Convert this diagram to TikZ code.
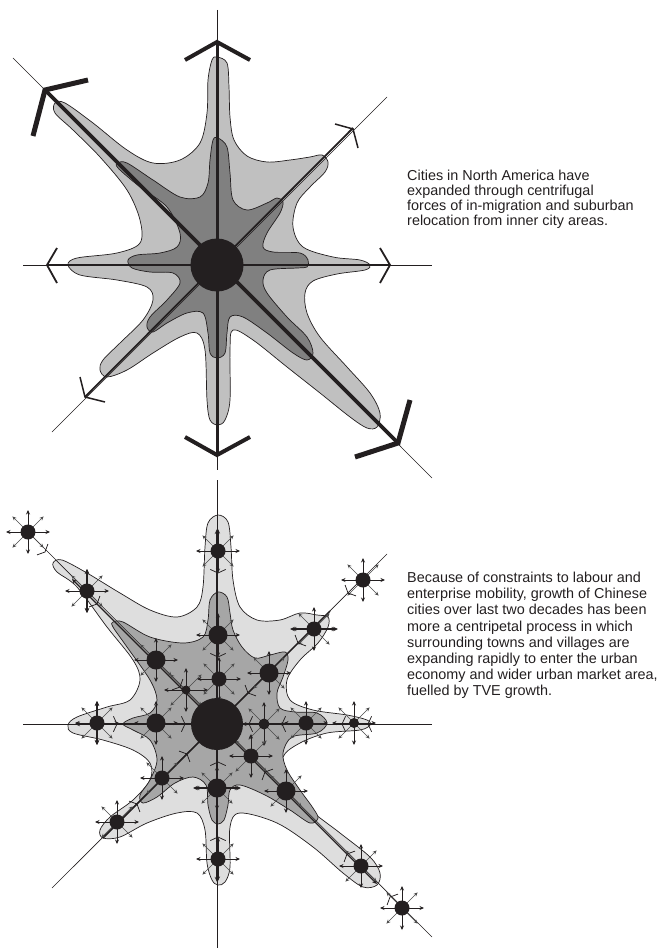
\documentclass[tikz,border=0pt]{standalone}
\usepackage{fontspec}
\setmainfont{Liberation Sans}
\usetikzlibrary{arrows.meta}
\definecolor{ink}{HTML}{231F20}
\definecolor{topouter}{HTML}{C0C0C0}
\definecolor{topinner}{HTML}{808080}
\definecolor{botouter}{HTML}{DEDEDE}
\definecolor{botinner}{HTML}{A6A6A6}
\definecolor{diaggray}{HTML}{4A4A4A}
\tikzset{
  blob/.style={draw=ink, line width=0.7pt},
  axisthin/.style={draw=ink, line width=0.6pt},
  orth/.style={draw=ink, line width=0.9pt, -{Stealth[length=4.5pt,width=4pt]}},
  orththick/.style={draw=ink, line width=1.6pt, -{Stealth[length=5pt,width=4.5pt]}},
  diagarr/.style={draw=diaggray, line width=0.65pt, -{Stealth[length=4pt,width=3.6pt]}},
  inaxis/.style={draw=ink, line width=1.4pt},
  inaxisarr/.style={draw=ink, line width=1.4pt, -{Stealth[length=5pt,width=4.5pt]}},
  chev/.style={draw=ink, line width=0.75pt},
  bigchev/.style={draw=ink, line join=miter},
  caption/.style={anchor=base west, inner sep=0pt, font=\fontsize{14.4}{15}\selectfont, text=ink},
}
\newcommand{\chevron}[3]{%
  \draw[chev] ([shift={(#3+115:8.5pt)}]#1,#2) -- (#1,#2) -- ([shift={(#3-115:8.5pt)}]#1,#2);}
\begin{document}
\begin{tikzpicture}[x=1pt,y=-1pt]
\useasboundingbox (0,0) rectangle (665,952);

% ================= TOP STAR =================
\filldraw[blob, fill=topouter] plot[smooth cycle, tension=0.55] coordinates {
(217,57) (227,63) (229,87) (230,117) (234,140) (247,156) (267,162) (290,160) (310,157) (322,155) (328,162) (325,172) (310,187) (297,203) (293,227) (303,247) (333,257) (360,260) (370,265) (365,270) (337,274) (313,281) (305,293) (307,313) (320,337) (347,367) (370,393) (380,413) (377,427) (367,428) (350,417) (320,393) (287,367) (253,340) (233,330) (230,350) (230,400) (225,420) (218,425) (210,420) (207,400) (205,350) (197,333) (180,337) (153,353) (127,370) (107,377) (100,370) (103,360) (120,343) (143,320) (153,300) (147,287) (117,280) (80,275) (68,265) (77,258) (117,253) (140,243) (140,220) (127,190) (100,157) (73,130) (55,113) (55,103) (65,103) (93,123) (127,150) (153,163) (180,160) (200,143) (207,113) (208,80) (212,60)};

\filldraw[blob, fill=topinner] plot[smooth cycle, tension=0.55] coordinates {
(218,138) (227,147) (230,173) (233,200) (247,210) (267,203) (277,198) (283,202) (280,213) (267,233) (263,247) (273,252) (300,253) (308,260) (307,267) (297,268) (270,270) (263,280) (267,293) (287,317) (307,337) (313,353) (307,360) (293,353) (267,333) (243,317) (230,317) (227,333) (225,353) (217,358) (210,353) (208,333) (203,313) (187,313) (167,323) (153,332) (147,327) (150,317) (167,300) (180,283) (173,273) (150,272) (132,268) (128,260) (137,255) (160,253) (177,247) (180,233) (167,207) (140,187) (118,168) (118,163) (127,163) (153,180) (180,197) (200,197) (208,183) (210,160) (213,140)};

% thin axes
\draw[axisthin] (217,10) -- (217,470);
\draw[axisthin] (23,265) -- (432,265);
\draw[axisthin] (13,58) -- (432,478);
\draw[axisthin] (387,97) -- (52,432);

% thick axes
\draw[ink, line width=3pt] (217,42) -- (217,455);
\draw[ink, line width=2pt] (47,265) -- (390,265);
\draw[ink, line width=3.6pt] (45,90) -- (398,443);
\draw[ink, line width=1.8pt] (353,128) -- (85,397);

% chevrons
\draw[bigchev, line width=4pt] (185,60) -- (217,42) -- (250,60);
\draw[bigchev, line width=4pt] (185,437) -- (217,455) -- (250,437);
\draw[bigchev, line width=5pt] (88,80) -- (45,90) -- (33,136);
\draw[bigchev, line width=5pt] (410,400) -- (398,443) -- (355,457);
\draw[bigchev, line width=1.8pt] (57,248) -- (47,265) -- (57,283);
\draw[bigchev, line width=1.8pt] (380,248) -- (390,265) -- (380,283);
\draw[bigchev, line width=1.5pt] (335,124) -- (353,129) -- (358,148);
\draw[bigchev, line width=1.5pt] (80,377) -- (85,397) -- (105,402);

\node[circle, fill=ink, minimum size=53pt, inner sep=0pt] (topcore) at (217,265) {};

\node[caption] (ta1) at (407,180) {Cities in North America have};
\node[caption] (ta2) at (407,195) {expanded through centrifugal};
\node[caption] (ta3) at (407,210) {forces of in-migration and suburban};
\node[caption] (ta4) at (407,225) {relocation from inner city areas.};

% ================= BOTTOM STAR =================
\filldraw[blob, fill=botouter] plot[smooth cycle, tension=0.55] coordinates {
(218,515) (228,522) (231,547) (233,580) (240,607) (257,620) (280,620) (300,613) (317,615) (328,617) (328,627) (318,643) (300,660) (287,680) (290,700) (313,710) (347,715) (367,720) (370,725) (360,730) (327,733) (300,743) (283,757) (287,780) (307,807) (340,833) (370,857) (380,873) (377,885) (363,887) (343,873) (313,847) (277,823) (240,813) (230,827) (230,867) (225,882) (218,885) (212,880) (207,863) (205,830) (197,813) (177,813) (147,823) (120,837) (103,838) (100,830) (110,817) (133,800) (150,780) (150,763) (133,750) (103,740) (73,733) (68,725) (77,717) (107,707) (130,700) (140,680) (133,660) (107,627) (77,587) (57,572) (53,563) (62,560) (87,573) (120,593) (150,610) (177,617) (197,607) (203,587) (205,547) (208,523)};

\filldraw[blob, fill=botinner] plot[smooth cycle, tension=0.55] coordinates {
(218,592) (227,597) (230,613) (233,630) (242,647) (255,658) (270,655) (285,652) (288,660) (283,677) (277,693) (280,708) (295,712) (317,713) (327,723) (317,733) (292,737) (283,753) (287,770) (300,790) (313,808) (318,818) (310,823) (290,810) (265,795) (240,785) (230,790) (228,805) (224,820) (218,824) (212,820) (208,805) (206,785) (193,777) (175,783) (157,797) (143,803) (140,795) (150,780) (157,760) (150,740) (133,730) (123,724) (133,718) (150,713) (157,700) (150,680) (127,647) (113,627) (113,622) (123,622) (150,637) (183,643) (203,637) (208,620) (210,600)};

% thin axes
\draw[axisthin] (217,480) -- (217,948);
\draw[axisthin] (23,724) -- (432,724);
\draw[axisthin] (28,532) -- (432,937);
\draw[axisthin] (387,554) -- (52,888);

% inner thicker axis segments
\coordinate (bc) at (217,724);
\draw[inaxisarr] (bc) -- (217,529);
\draw[inaxisarr] (bc) -- (217,882);
\draw[inaxisarr] (bc) -- (75,724);
\draw[inaxis] (bc) -- (327,724);
\draw[inaxisarr] (bc) -- (72,579);
\draw[inaxisarr] (bc) -- (377,884);
\draw[inaxis] (bc) -- (330,611);
\draw[inaxis] (bc) -- (103,838);

% town arrows
\foreach \n/\x/\y in {1/28/532, 2/87/591, 3/156/660, 4/186/690, 5/218/551, 6/218/635, 7/219/679, 8/363/580, 9/314/629, 10/269/673, 11/97/723, 12/156/723, 13/264/724, 14/306/723, 15/354/723, 16/251/756, 17/162/778, 18/217/788, 19/286/791, 20/117/822, 21/218/859, 22/361/866, 23/402/908} {
  \coordinate (t\n) at (\x,\y);
  \foreach \a in {45,135,225,315} \draw[diagarr] (t\n) -- ++(\a:22pt);
  \foreach \a in {0,90,180,270} \draw[orth] (t\n) -- ++(\a:22pt);
}
% thicker town arrows
\foreach \a in {90,270} {\draw[orththick] (t2) -- ++(\a:22pt); \draw[orththick] (t11) -- ++(\a:22pt);}
\foreach \a in {0,180} {\draw[orththick] (t9) -- ++(\a:24pt); \draw[orththick] (t18) -- ++(\a:24pt);}

% inward chevrons on the axes
\chevron{218}{573}{-90}
\chevron{218}{657}{-90}
\chevron{218}{762}{90}
\chevron{218}{837}{90}
\chevron{117}{724}{0}
\chevron{185}{724}{0}
\chevron{249}{724}{180}
\chevron{282}{724}{180}
\chevron{342}{724}{180}
\chevron{368}{724}{180}
\chevron{348}{593}{225}
\chevron{298}{643}{225}
\chevron{248}{693}{225}
\chevron{45}{552}{-45}
\chevron{97}{604}{-45}
\chevron{180}{687}{-45}
\chevron{187}{754}{45}
\chevron{137}{804}{45}
\chevron{265}{772}{135}
\chevron{347}{854}{135}
\chevron{390}{897}{135}

% town discs
\foreach \n/\r in {1/7.5, 2/7.5, 3/9.5, 4/4.5, 5/7.5, 6/9.5, 7/7.5, 8/7.5, 9/7.5, 10/9.5, 11/7.5, 12/9.5, 13/5.5, 14/7.5, 15/5, 16/7.5, 17/7.5, 18/9.5, 19/9.5, 20/7.5, 21/7.5, 22/7.5, 23/7.5} {
  \fill[ink] (t\n) circle (\r pt);
}
\node[circle, fill=ink, minimum size=52pt, inner sep=0pt] (botcore) at (bc) {};

\node[caption] (ba1) at (407,582.5) {Because of constraints to labour and};
\node[caption] (ba2) at (407,598.7) {enterprise mobility, growth of Chinese};
\node[caption] (ba3) at (407,614.9) {cities over last two decades has been};
\node[caption] (ba4) at (407,631.1) {more a centripetal process in which};
\node[caption] (ba5) at (407,647.3) {surrounding towns and villages are};
\node[caption] (ba6) at (407,663.5) {expanding rapidly to enter the urban};
\node[caption] (ba7) at (407,679.7) {economy and wider urban market area,};
\node[caption] (ba8) at (407,695.9) {fuelled by TVE growth.};
\end{tikzpicture}
\end{document}
